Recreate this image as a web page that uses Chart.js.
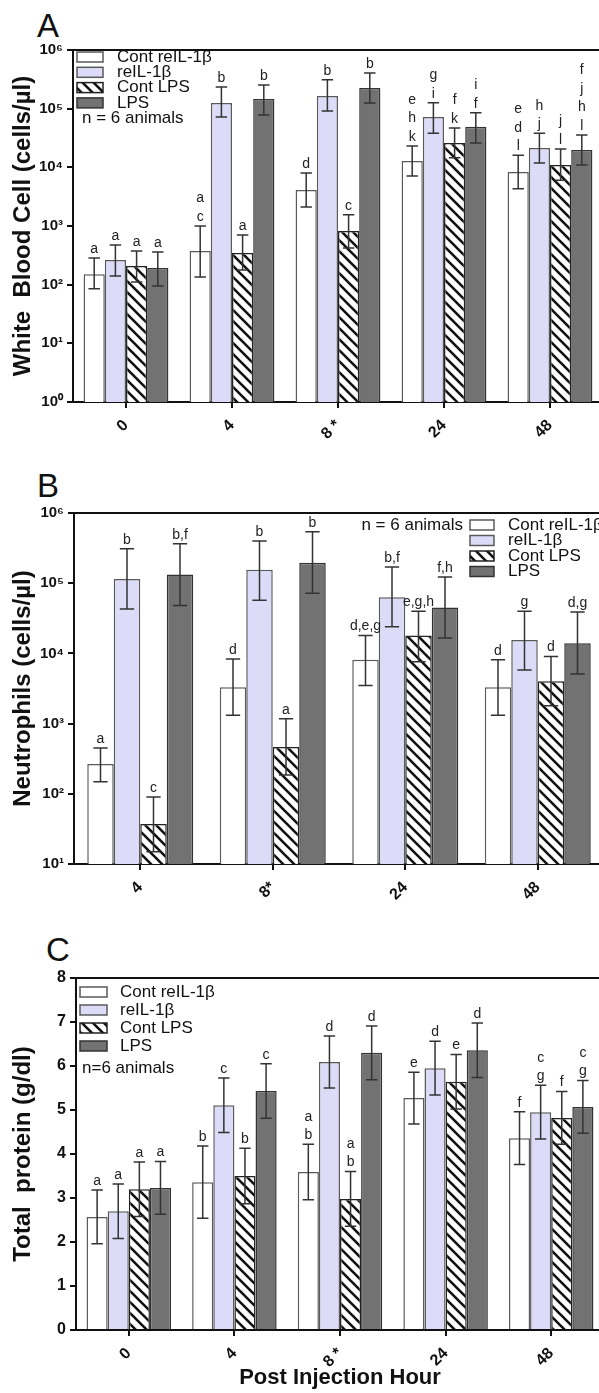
<!DOCTYPE html>
<html>
<head>
<meta charset="utf-8">
<script src="https://cdn.jsdelivr.net/npm/chart.js@4.4.1/dist/chart.umd.min.js"></script>
<style>
  html, body { margin: 0; padding: 0; background: #fff; }
  body { width: 599px; height: 1393px; overflow: hidden; position: relative; font-family: 'Liberation Sans', Arial, sans-serif; }
  canvas { position: absolute; left: 0; }
  .tag { position: absolute; font-size: 33px; line-height: 33px; color: #111; }
</style>
</head>
<body>
<div class="tag" style="left:37px; top:9px">A</div>
<div class="tag" style="left:37px; top:469px">B</div>
<div class="tag" style="left:46px; top:933px">C</div>
<canvas id="chartA" width="612" height="460" style="top:0"></canvas>
<canvas id="chartB" width="612" height="470" style="top:460px"></canvas>
<canvas id="chartC" width="612" height="463" style="top:930px"></canvas>
<script>
// groups and series names
const hoursA = ['0', '4', '8 *', '24', '48'];
const hoursB = ['4', '8*', '24', '48'];
const hoursC = ['0', '4', '8 *', '24', '48'];
const seriesNames = ['Cont reIL-1β', 'reIL-1β', 'Cont LPS', 'LPS'];

const logTickValues = [1, 10, 100, 1000, 10000, 100000, 1000000];
const logTickLabels = ['10⁰', '10¹', '10²', '10³', '10⁴', '10⁵', '10⁶'];

// A - white blood cells (cells/ul), mean and error bar ends
const wbcContIL = [151, 375, 4100, 12800, 8300];
const wbcContILHi = [284, 1000, 8000, 23000, 16000];
const wbcContILLo = [85, 135, 2100, 7100, 4300];
const wbcIL = [263, 125000, 165000, 72000, 21300];
const wbcILHi = [475, 234000, 310000, 126000, 38000];
const wbcILLo = [140, 72000, 91000, 38000, 11800];
const wbcContLPS = [208, 347, 820, 26000, 11000];
const wbcContLPSHi = [375, 705, 1550, 47000, 20500];
const wbcContLPSLo = [111, 178, 420, 14500, 6000];
const wbcLPS = [192, 146000, 225000, 49000, 19800];
const wbcLPSHi = [362, 253000, 405000, 85000, 35500];
const wbcLPSLo = [95, 78000, 125000, 26000, 11000];
const wbcLetters = [
  [['a'], ['a', 'c'], ['d'], ['e', 'h', 'k'], ['e', 'd', 'l']],
  [['a'], ['b'], ['b'], ['g', 'i'], ['h', 'j']],
  [['a'], ['a'], ['c'], ['f', 'k'], ['j', 'l']],
  [['a'], ['b'], ['b'], ['i', 'f'], ['f', 'j', 'h', 'l']]
];

// B - neutrophils (cells/ul)
const neuContIL = [265, 3300, 8100, 3300];
const neuContILHi = [448, 8300, 18000, 8100];
const neuContILLo = [148, 1320, 3500, 1320];
const neuIL = [115000, 155000, 63000, 15500];
const neuILHi = [310000, 400000, 170000, 40000];
const neuILLo = [43000, 57000, 24000, 5800];
const neuContLPS = [37, 465, 18000, 4000];
const neuContLPSHi = [90, 1170, 40000, 9000];
const neuContLPSLo = [15, 185, 7600, 1800];
const neuLPS = [133000, 195000, 45000, 14000];
const neuLPSHi = [365000, 540000, 123000, 39000];
const neuLPSLo = [48000, 72000, 16600, 5100];
const neuLetters = [
  [['a'], ['d'], ['d,e,g'], ['d']],
  [['b'], ['b'], ['b,f'], ['g']],
  [['c'], ['a'], ['e,g,h'], ['d']],
  [['b,f'], ['b'], ['f,h'], ['d,g']]
];

// C - total protein (g/dl), mean and half error bar
const protContIL = [2.57, 3.36, 3.59, 5.27, 4.36];
const protContILErr = [0.61, 0.82, 0.63, 0.59, 0.60];
const protIL = [2.70, 5.11, 6.09, 5.95, 4.95];
const protILErr = [0.62, 0.62, 0.59, 0.61, 0.61];
const protContLPS = [3.20, 3.50, 2.98, 5.64, 4.82];
const protContLPSErr = [0.62, 0.63, 0.62, 0.62, 0.60];
const protLPS = [3.23, 5.43, 6.30, 6.36, 5.07];
const protLPSErr = [0.60, 0.62, 0.61, 0.62, 0.60];
const protLetters = [
  [['a'], ['b'], ['a', 'b'], ['e'], ['f']],
  [['a'], ['c'], ['d'], ['d'], ['c', 'g']],
  [['a'], ['b'], ['a', 'b'], ['e'], ['f']],
  [['a'], ['c'], ['d'], ['d'], ['c', 'g']]
];

const FONT = "'Liberation Sans', Arial, sans-serif";

function makeHatch() {
  const c = document.createElement('canvas');
  c.width = c.height = 11;
  const g = c.getContext('2d');
  g.fillStyle = '#fff';
  g.fillRect(0, 0, 11, 11);
  g.strokeStyle = '#111';
  g.lineWidth = 2.6;
  g.beginPath();
  g.moveTo(-2, -2); g.lineTo(13, 13);
  g.moveTo(9, -2); g.lineTo(13, 2);
  g.moveTo(-2, 9); g.lineTo(2, 13);
  g.stroke();
  return g.createPattern(c, 'repeat');
}
const hatch = makeHatch();
const fills = ['#ffffff', '#dcdcf8', hatch, '#727272'];
const borders = ['#5a5a5a', '#5a5a5a', '#222222', '#333333'];

// error bars, letters, top frame line and legend
const panelDeco = {
  id: 'panelDeco',
  afterDatasetsDraw(chart, args, o) {
    const ctx = chart.ctx;
    const y = chart.scales.y;
    const area = chart.chartArea;
    ctx.save();
    chart.data.datasets.forEach((ds, d) => {
      chart.getDatasetMeta(d).data.forEach((bar, i) => {
        const hi = y.getPixelForValue(ds.errHi[i]);
        const lo = y.getPixelForValue(ds.errLo[i]);
        const cap = bar.width * 0.27;
        ctx.strokeStyle = '#333';
        ctx.lineWidth = 1.5;
        ctx.beginPath();
        ctx.moveTo(bar.x, hi); ctx.lineTo(bar.x, lo);
        ctx.moveTo(bar.x - cap, hi); ctx.lineTo(bar.x + cap, hi);
        ctx.moveTo(bar.x - cap, lo); ctx.lineTo(bar.x + cap, lo);
        ctx.stroke();
        const lines = ds.letters[i];
        ctx.fillStyle = '#222';
        ctx.font = '14px ' + FONT;
        ctx.textAlign = 'center';
        ctx.textBaseline = 'middle';
        lines.forEach((t, k) => {
          ctx.fillText(t, bar.x, hi - o.gap - (lines.length - 1 - k) * o.lineStep);
        });
      });
    });

    // top frame
    ctx.strokeStyle = '#111';
    ctx.lineWidth = 2;
    ctx.beginPath();
    ctx.moveTo(area.left, area.top);
    ctx.lineTo(area.right + 10, area.top);
    ctx.stroke();

    // legend
    const L = o.legend;
    ctx.font = '17px ' + FONT;
    ctx.textBaseline = 'middle';
    chart.data.datasets.forEach((ds, d) => {
      const cy = area.top + L.dy + d * L.step;
      const bx = area.left + L.dx;
      ctx.fillStyle = ds.backgroundColor;
      ctx.fillRect(bx, cy - L.boxH / 2, L.boxW, L.boxH);
      ctx.strokeStyle = ds.borderColor;
      ctx.lineWidth = 1.5;
      ctx.strokeRect(bx, cy - L.boxH / 2, L.boxW, L.boxH);
      ctx.fillStyle = '#111';
      ctx.textAlign = 'left';
      ctx.fillText(ds.label, area.left + L.textDx, cy);
    });
    ctx.textAlign = L.noteAlign;
    ctx.fillText(L.note, area.left + L.noteDx, area.top + L.noteDy);
    ctx.restore();
  }
};

function logAxis(min, max, title, width) {
  return {
    type: 'logarithmic',
    min: min,
    max: max,
    afterBuildTicks: s => {
      s.ticks = logTickValues.filter(v => v >= min && v <= max).map(v => ({ value: v }));
    },
    afterFit: s => { s.width = width; },
    ticks: {
      autoSkip: false,
      color: '#111',
      padding: 4,
      font: { family: FONT, size: 15, weight: 'bold' },
      callback: v => logTickLabels[Math.round(Math.log10(v))]
    },
    grid: { drawOnChartArea: false, drawTicks: true, tickLength: 6, color: '#111', lineWidth: 2 },
    border: { display: true, color: '#111', width: 2 },
    title: { display: true, text: title, color: '#111', padding: { top: 9, bottom: 0 }, font: { family: FONT, size: 24, weight: 'bold' } }
  };
}

function hourAxis(height, title) {
  return {
    afterFit: s => { s.height = height; },
    ticks: {
      minRotation: 45, maxRotation: 45, autoSkip: false, color: '#111', padding: 8,
      font: { family: FONT, size: 16, weight: 'bold' }
    },
    grid: { offset: false, drawOnChartArea: false, drawTicks: true, tickLength: 6, color: '#111', lineWidth: 2 },
    border: { display: true, color: '#111', width: 2 },
    title: { display: !!title, text: title || '', color: '#111', padding: { top: 0, bottom: 2 }, font: { family: FONT, size: 22, weight: 'bold' } }
  };
}

function buildChart(id, labels, series, yAxis, xAxis, padding, deco) {
  const datasets = series.map((s, k) => ({
    label: seriesNames[k],
    data: s.mean,
    errHi: s.hi,
    errLo: s.lo,
    letters: s.letters,
    backgroundColor: fills[k],
    borderColor: borders[k],
    borderWidth: 1.5,
    categoryPercentage: 0.8,
    barPercentage: 1.0
  }));
  return new Chart(document.getElementById(id), {
    type: 'bar',
    data: { labels: labels, datasets: datasets },
    options: {
      responsive: false,
      animation: false,
      devicePixelRatio: 1,
      layout: { padding: padding },
      plugins: { legend: { display: false }, tooltip: { enabled: false }, panelDeco: deco },
      scales: { x: xAxis, y: yAxis }
    },
    plugins: [panelDeco]
  });
}

buildChart('chartA', hoursA, [
  { mean: wbcContIL, hi: wbcContILHi, lo: wbcContILLo, letters: wbcLetters[0] },
  { mean: wbcIL, hi: wbcILHi, lo: wbcILLo, letters: wbcLetters[1] },
  { mean: wbcContLPS, hi: wbcContLPSHi, lo: wbcContLPSLo, letters: wbcLetters[2] },
  { mean: wbcLPS, hi: wbcLPSHi, lo: wbcLPSLo, letters: wbcLetters[3] }
], logAxis(1, 1000000, 'White  Blood Cell (cells/µl)', 73), hourAxis(58),
  { top: 50, right: 9, left: 0, bottom: 0 },
  { gap: 9, lineStep: 18.5, legend: { dx: 4, dy: 7, step: 15.3, boxW: 26, boxH: 10, textDx: 44, note: 'n = 6 animals', noteDx: 9, noteDy: 68, noteAlign: 'left' } });

buildChart('chartB', hoursB, [
  { mean: neuContIL, hi: neuContILHi, lo: neuContILLo, letters: neuLetters[0] },
  { mean: neuIL, hi: neuILHi, lo: neuILLo, letters: neuLetters[1] },
  { mean: neuContLPS, hi: neuContLPSHi, lo: neuContLPSLo, letters: neuLetters[2] },
  { mean: neuLPS, hi: neuLPSHi, lo: neuLPSLo, letters: neuLetters[3] }
], logAxis(10, 1000000, 'Neutrophils (cells/µl)', 74), hourAxis(66),
  { top: 53, right: 8, left: 0, bottom: 0 },
  { gap: 9, lineStep: 18.5, legend: { dx: 396, dy: 12, step: 15.5, boxW: 24, boxH: 10, textDx: 434, note: 'n = 6 animals', noteDx: 389, noteDy: 12, noteAlign: 'right' } });

buildChart('chartC', hoursC, [
  { mean: protContIL, hi: protContIL.map((v, i) => v + protContILErr[i]), lo: protContIL.map((v, i) => v - protContILErr[i]), letters: protLetters[0] },
  { mean: protIL, hi: protIL.map((v, i) => v + protILErr[i]), lo: protIL.map((v, i) => v - protILErr[i]), letters: protLetters[1] },
  { mean: protContLPS, hi: protContLPS.map((v, i) => v + protContLPSErr[i]), lo: protContLPS.map((v, i) => v - protContLPSErr[i]), letters: protLetters[2] },
  { mean: protLPS, hi: protLPS.map((v, i) => v + protLPSErr[i]), lo: protLPS.map((v, i) => v - protLPSErr[i]), letters: protLetters[3] }
], {
  type: 'linear', min: 0, max: 8,
  afterFit: s => { s.width = 76; },
  ticks: { stepSize: 1, color: '#111', padding: 4, font: { family: FONT, size: 16, weight: 'bold' } },
  grid: { drawOnChartArea: false, drawTicks: true, tickLength: 6, color: '#111', lineWidth: 2 },
  border: { display: true, color: '#111', width: 2 },
  title: { display: true, text: 'Total  protein (g/dl)', color: '#111', padding: { top: 9, bottom: 0 }, font: { family: FONT, size: 24, weight: 'bold' } }
}, hourAxis(63, 'Post Injection Hour'),
  { top: 48, right: 8, left: 0, bottom: 0 },
  { gap: 9, lineStep: 18.5, legend: { dx: 4, dy: 14, step: 18, boxW: 27, boxH: 10, textDx: 44, note: 'n=6 animals', noteDx: 6, noteDy: 90, noteAlign: 'left' } });
</script>
</body>
</html>
